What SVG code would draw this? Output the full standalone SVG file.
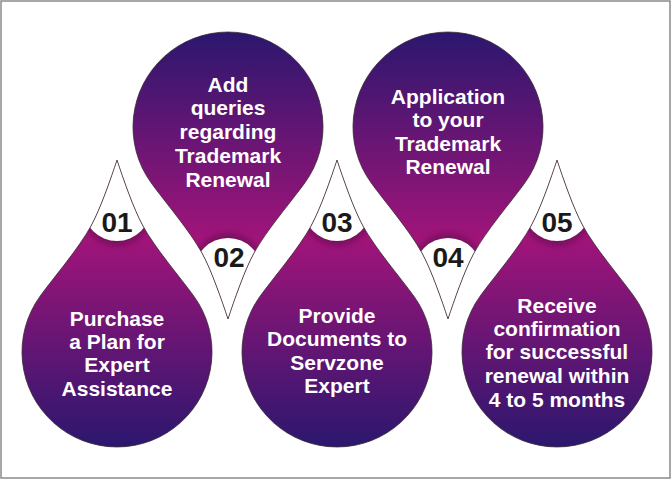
<svg xmlns="http://www.w3.org/2000/svg" width="672" height="480" viewBox="0 0 672 480">
<style>
.body{fill:url(#g);}
.edge{fill:none;stroke:#3a2a32;stroke-width:0.8;}
.cap{fill:#ffffff;}
.shadow{fill:#4a0a40;opacity:0.55;filter:url(#blur);}
.lbl{font-family:"Liberation Sans",Arial,sans-serif;font-weight:bold;font-size:21px;fill:#ffffff;text-anchor:middle;}
.num{font-family:"Liberation Sans",Arial,sans-serif;font-weight:bold;font-size:28px;fill:#1a1a1a;text-anchor:middle;}
</style>
<defs>
<linearGradient id="g" x1="0" y1="0" x2="0" y2="1">
<stop offset="0" stop-color="#a8157c"/>
<stop offset="0.25" stop-color="#a5147a"/>
<stop offset="1" stop-color="#2b176e"/>
</linearGradient>
<path id="drop" d="M0,-192 C6,-174 16.4,-143.5 26,-126 C38,-104 62.2,-76 76.9,-55.8 A95 95 0 1 1 -76.9,-55.8 C-62.2,-76 -38,-104 -26,-126 C-16.4,-143.5 -6,-174 0,-192 Z"/>
<path id="capshape" d="M-40,-200 H40 V-145 H34 A34 34 0 0 1 -34,-145 H-40 Z"/>
<clipPath id="clip" clipPathUnits="userSpaceOnUse"><use href="#drop"/></clipPath>
<filter id="blur" x="-50%" y="-50%" width="200%" height="200%"><feGaussianBlur stdDeviation="3"/></filter>
</defs>
<rect x="1" y="1" width="669" height="477" fill="#ffffff" stroke="#8a8a8a" stroke-width="1.5"/>
<g id="step01">
<g transform="translate(117,352)">
<use href="#drop" class="body"/>
<g clip-path="url(#clip)"><circle cx="0" cy="-142" r="35" class="shadow"/><use href="#capshape" class="cap"/></g>
<use href="#drop" class="edge"/>
</g>
<text class="num" x="117" y="232">01</text>
<text class="lbl" x="117" y="326">Purchase</text>
<text class="lbl" x="117" y="349">a Plan for</text>
<text class="lbl" x="117" y="372">Expert</text>
<text class="lbl" x="117" y="396">Assistance</text>
</g>
<g id="step02">
<g transform="translate(228,127) scale(1,-1)">
<use href="#drop" class="body"/>
<g clip-path="url(#clip)"><circle cx="0" cy="-142" r="35" class="shadow"/><use href="#capshape" class="cap"/></g>
<use href="#drop" class="edge"/>
</g>
<text class="num" x="229" y="267">02</text>
<text class="lbl" x="228" y="92">Add</text>
<text class="lbl" x="228" y="115">queries</text>
<text class="lbl" x="228" y="139">regarding</text>
<text class="lbl" x="228" y="163">Trademark</text>
<text class="lbl" x="228" y="187">Renewal</text>
</g>
<g id="step03">
<g transform="translate(337,352)">
<use href="#drop" class="body"/>
<g clip-path="url(#clip)"><circle cx="0" cy="-142" r="35" class="shadow"/><use href="#capshape" class="cap"/></g>
<use href="#drop" class="edge"/>
</g>
<text class="num" x="337" y="232">03</text>
<text class="lbl" x="337" y="323">Provide</text>
<text class="lbl" x="337" y="346">Documents to</text>
<text class="lbl" x="337" y="370">Servzone</text>
<text class="lbl" x="337" y="393">Expert</text>
</g>
<g id="step04">
<g transform="translate(448,127) scale(1,-1)">
<use href="#drop" class="body"/>
<g clip-path="url(#clip)"><circle cx="0" cy="-142" r="35" class="shadow"/><use href="#capshape" class="cap"/></g>
<use href="#drop" class="edge"/>
</g>
<text class="num" x="448" y="267">04</text>
<text class="lbl" x="448" y="104">Application</text>
<text class="lbl" x="448" y="127">to your</text>
<text class="lbl" x="448" y="151">Trademark</text>
<text class="lbl" x="448" y="174">Renewal</text>
</g>
<g id="step05">
<g transform="translate(557,352)">
<use href="#drop" class="body"/>
<g clip-path="url(#clip)"><circle cx="0" cy="-142" r="35" class="shadow"/><use href="#capshape" class="cap"/></g>
<use href="#drop" class="edge"/>
</g>
<text class="num" x="557" y="232">05</text>
<text class="lbl" x="557" y="313">Receive</text>
<text class="lbl" x="557" y="336">confirmation</text>
<text class="lbl" x="557" y="359">for successful</text>
<text class="lbl" x="557" y="383">renewal within</text>
<text class="lbl" x="557" y="407">4 to 5 months</text>
</g>
<g id="connectors"></g>
</svg>
